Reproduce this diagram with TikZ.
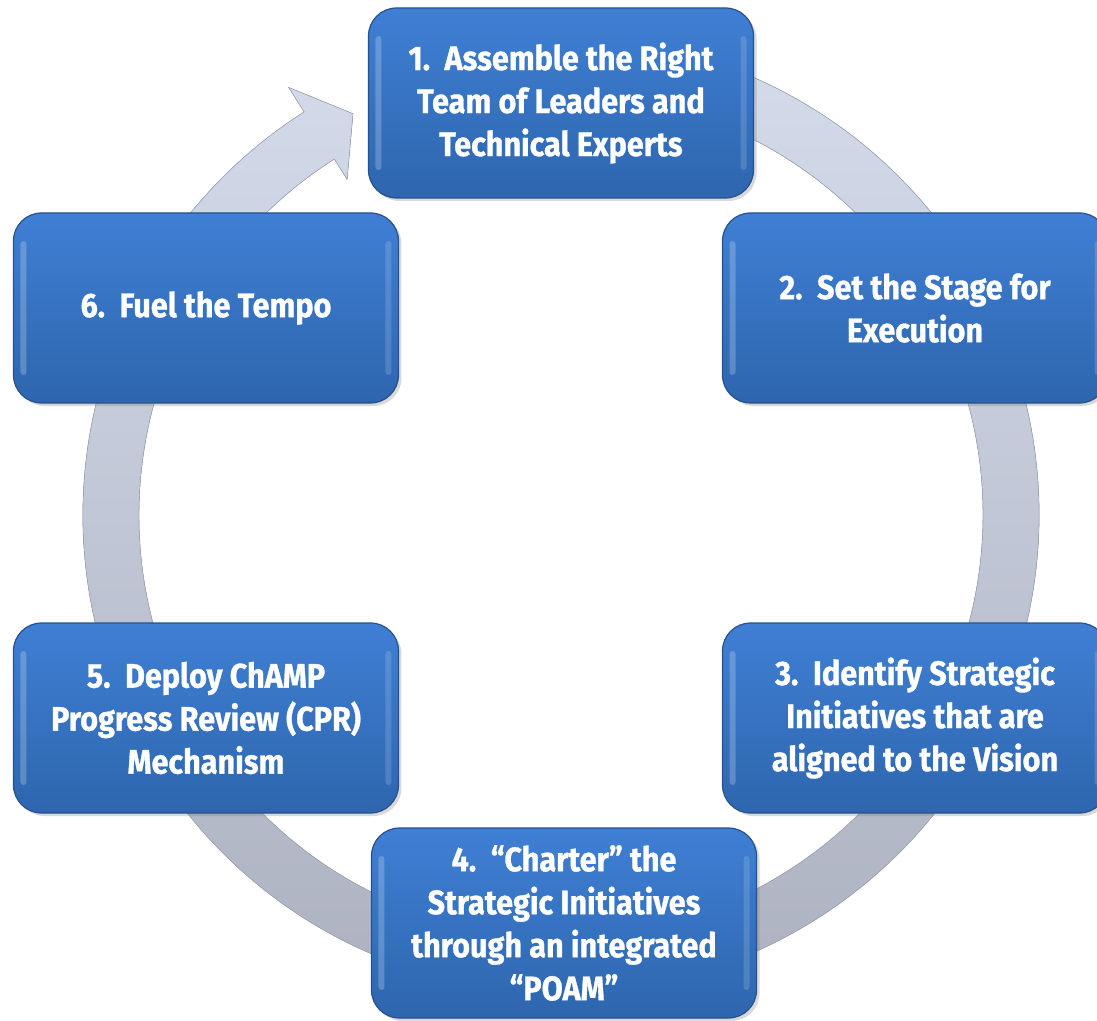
\documentclass[tikz,border=0pt]{standalone}
\usepackage{fontspec}
\usepackage{tikz}
\usetikzlibrary{shadows}
\newfontfamily\stagefont{Fira Sans}[FakeStretch=0.9, BoldFeatures={FakeBold=0.9}]
\definecolor{ringlight}{HTML}{D3DBEA}
\definecolor{ringdark}{HTML}{ABAFBD}
\definecolor{ringedge}{HTML}{A0A6B6}
\definecolor{boxtop}{HTML}{3F7FD4}
\definecolor{boxbottom}{HTML}{2E66AE}
\definecolor{boxedge}{HTML}{28508C}

\begin{document}
\begin{tikzpicture}[x=1pt,y=1pt,
	stage/.style={rectangle, rounded corners=28pt, minimum width=385pt, minimum height=190pt,
		top color=boxtop, bottom color=boxbottom, draw=boxedge, line width=1.2pt,
		drop shadow={opacity=0.3, shadow xshift=3pt, shadow yshift=-3pt},
		path picture={
			\fill [white, opacity=0.22, rounded corners=3pt]
				([xshift=7pt, yshift=28pt]path picture bounding box.south west) rectangle
				([xshift=13pt, yshift=-28pt]path picture bounding box.north west);
			\fill [white, opacity=0.15, rounded corners=3pt]
				([xshift=-13pt, yshift=28pt]path picture bounding box.south east) rectangle
				([xshift=-7pt, yshift=-28pt]path picture bounding box.north east);
		},
		text=white, align=center, font=\stagefont\bfseries\fontsize{34}{43}\selectfont}]
	\useasboundingbox (-561,-505) rectangle (536,515);
	\filldraw [draw=ringedge, line width=0.6pt, top color=ringlight, bottom color=ringdark]
		(72:478) arc[start angle=72, end angle=-237.5, radius=478]
		-- (-237.5:507) -- (-242.6:452) -- (-237.5:398) -- (-237.5:422)
		arc[start angle=-237.5, end angle=72, radius=422] -- cycle;
	\node [stage] (S1) at (0,412) {1.\ \ Assemble the Right\\Team of Leaders and\\Technical Experts};
	\node [stage] (S2) at (354,207) {2.\ \ Set the Stage for\\Execution};
	\node [stage] (S3) at (354,-203) {3.\ \ Identify Strategic\\Initiatives that are\\aligned to the Vision};
	\node [stage] (S4) at (3,-408) {4.\ \ “Charter” the\\Strategic Initiatives\\through an integrated\\“POAM”};
	\node [stage] (S5) at (-355,-203) {5.\ \ Deploy ChAMP\\Progress Review (CPR)\\Mechanism};
	\node [stage] (S6) at (-355,207) {6.\ \ Fuel the Tempo};
\end{tikzpicture}
\end{document}
